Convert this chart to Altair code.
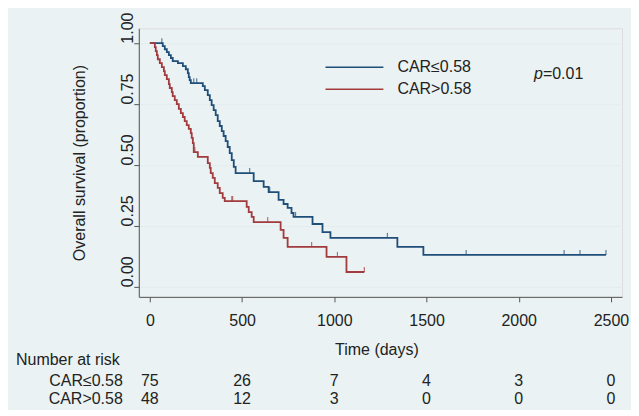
import altair as alt
import pandas as pd

# ---------------- data ----------------
groups = ["CAR≤0.58", "CAR>0.58"]

low_t = [0, 70, 81, 92, 103, 114, 124, 152, 179, 195, 206, 211, 216, 222, 287, 298,
         314, 325, 335, 346, 357, 368, 379, 390, 400, 411, 422, 433, 444, 455, 465,
         563, 617, 644, 698, 725, 747, 768, 779, 882, 936, 979, 1342, 1483]
low_s = [1.0, 0.988, 0.975, 0.963, 0.951, 0.939, 0.926, 0.918, 0.906, 0.893, 0.877,
         0.861, 0.848, 0.836, 0.824, 0.807, 0.787, 0.766, 0.746, 0.725, 0.705, 0.680,
         0.660, 0.639, 0.619, 0.598, 0.574, 0.549, 0.520, 0.492, 0.467, 0.434, 0.410,
         0.389, 0.357, 0.340, 0.324, 0.303, 0.287, 0.258, 0.225, 0.201, 0.164, 0.131]
low_end = 2473
low_cens = [65, 238, 254, 541, 650, 790, 1288, 1715, 2246, 2332, 2473]

high_t = [0, 27, 32, 38, 43, 54, 65, 76, 81, 92, 103, 108, 119, 124, 135, 146, 157,
          168, 179, 189, 200, 211, 222, 227, 233, 238, 260, 314, 325, 330, 341, 352,
          368, 379, 395, 406, 525, 536, 552, 563, 709, 725, 747, 958, 1066]
high_s = [1.0, 0.984, 0.967, 0.951, 0.934, 0.918, 0.902, 0.885, 0.869, 0.852, 0.832,
          0.816, 0.799, 0.783, 0.766, 0.750, 0.730, 0.713, 0.697, 0.680, 0.664, 0.648,
          0.631, 0.611, 0.590, 0.553, 0.533, 0.508, 0.488, 0.467, 0.447, 0.426, 0.406,
          0.385, 0.365, 0.352, 0.328, 0.307, 0.287, 0.266, 0.234, 0.201, 0.164, 0.123,
          0.061]
high_end = 1163
high_cens = [244, 444, 449, 639, 877, 1017, 1163]

risk_times = [0, 500, 1000, 1500, 2000, 2500]
risk_low = [75, 26, 7, 4, 3, 0]
risk_high = [48, 12, 3, 0, 0, 0]

y_ticks = [0, 0.25, 0.5, 0.75, 1.0]

# ---------------- tables ----------------
def surv_at(ts, ss, t):
    v = ss[0]
    for ti, si in zip(ts, ss):
        if ti <= t:
            v = si
    return v

line_rows, cens_rows, risk_rows = [], [], []
for g, ts, ss, end, cens, risk in [
    (groups[0], low_t, low_s, low_end, low_cens, risk_low),
    (groups[1], high_t, high_s, high_end, high_cens, risk_high),
]:
    for i, (t, s) in enumerate(zip(ts, ss)):
        line_rows.append({"group": g, "t": t, "s": s, "o": i})
    line_rows.append({"group": g, "t": end, "s": ss[-1], "o": len(ts)})
    for c in cens:
        cens_rows.append({"group": g, "t": c, "s": surv_at(ts, ss, c)})
    for t, n in zip(risk_times, risk):
        risk_rows.append({"group": g, "t": t, "n": str(n)})

lines_df = pd.DataFrame(line_rows)
cens_df = pd.DataFrame(cens_rows)
risk_df = pd.DataFrame(risk_rows)

FONT = "Liberation Sans"
BLUE = "#1f4e79"
RED = "#a33a3d"

xscale = alt.Scale(domain=[-60, 2560], nice=False, zero=False)
yscale = alt.Scale(domain=[-0.041, 1.061], nice=False, zero=False)
cscale = alt.Scale(domain=groups, range=[BLUE, RED])

xaxis = alt.Axis(values=risk_times, format="d", title="Time (days)", grid=False,
                 tickSize=5, labelPadding=11, labelFontSize=16, titleFontSize=16,
                 titleFontWeight="normal", titleX=238, titleY=53,
                 titleBaseline="middle", titleAlign="center", labelFlush=False,
                 labelOverlap=False, domainColor="#555555", tickColor="#555555",
                 labelColor="#222222", titleColor="#222222")
yaxis = alt.Axis(values=y_ticks, format=".2f", title="Overall survival (proportion)",
                 grid=True, gridColor="#e4ecee", gridWidth=1, tickSize=5,
                 labelAngle=270, labelAlign="left", labelBaseline="middle",
                 labelPadding=6, labelFontSize=16, titleFontSize=16,
                 titleFontWeight="normal", titleAngle=270, titleX=-59, titleY=134.5,
                 titleAlign="center", titleBaseline="middle", domainColor="#555555",
                 tickColor="#555555", labelColor="#222222", titleColor="#222222",
                 labelOverlap=False)

legend = alt.Legend(title=None, orient="none", legendX=186, legendY=28,
                    symbolType="stroke", symbolSize=3364, symbolStrokeWidth=1.6,
                    clipHeight=22, rowPadding=0, labelOffset=13, labelFontSize=16,
                    labelFont=FONT, labelColor="#222222", padding=0)

lines = alt.Chart(lines_df).mark_line(interpolate="step-after", strokeWidth=1.8).encode(
    x=alt.X("t:Q", scale=xscale, axis=xaxis),
    y=alt.Y("s:Q", scale=yscale, axis=yaxis),
    color=alt.Color("group:N", scale=cscale, legend=legend),
    order="o:Q",
    detail="group:N",
)

ticks = alt.Chart(cens_df).mark_tick(orient="vertical", size=5, thickness=1.2,
                                     yOffset=-2.5).encode(
    x=alt.X("t:Q", scale=xscale),
    y=alt.Y("s:Q", scale=yscale),
    color=alt.Color("group:N", scale=cscale, legend=None),
)

p_it = alt.Chart().mark_text(font=FONT, fontSize=16, fontStyle="italic", align="left",
                             baseline="middle", color="#222222").encode(
    x=alt.datum(2083), y=alt.datum(0.873), text=alt.value("p"))
p_val = alt.Chart().mark_text(font=FONT, fontSize=16, align="left", baseline="middle",
                              color="#222222").encode(
    x=alt.datum(2131), y=alt.datum(0.873), text=alt.value("=0.01"))

risk_title = alt.Chart().mark_text(font=FONT, fontSize=16, align="left",
                                   baseline="middle", color="#222222").encode(
    x=alt.value(-123), y=alt.value(332), text=alt.value("Number at risk"))

row_low = alt.Chart().mark_text(font=FONT, fontSize=16, align="right",
                                baseline="middle", color="#222222").encode(
    x=alt.value(-16), y=alt.value(353), text=alt.value(groups[0]))
row_high = alt.Chart().mark_text(font=FONT, fontSize=16, align="right",
                                 baseline="middle", color="#222222").encode(
    x=alt.value(-16), y=alt.value(371), text=alt.value(groups[1]))

risk_low_txt = alt.Chart(risk_df[risk_df.group == groups[0]]).mark_text(
    font=FONT, fontSize=16, align="center", baseline="middle", color="#222222").encode(
    x=alt.X("t:Q", scale=xscale), y=alt.value(353), text="n:N")
risk_high_txt = alt.Chart(risk_df[risk_df.group == groups[1]]).mark_text(
    font=FONT, fontSize=16, align="center", baseline="middle", color="#222222").encode(
    x=alt.X("t:Q", scale=xscale), y=alt.value(371), text="n:N")

chart = alt.layer(
    lines, ticks, p_it, p_val, risk_title, row_low, row_high, risk_low_txt, risk_high_txt
).properties(
    width=484, height=269,
    autosize=alt.AutoSizeParams(type="none"),
    padding={"left": 131, "top": 20, "right": 9, "bottom": 113},
    background="#eaf2f3",
).configure_view(
    fill="white", stroke="transparent"
).configure(
    font=FONT
)

chart.save("out.html", embed_options={"renderer": "svg", "actions": False})
